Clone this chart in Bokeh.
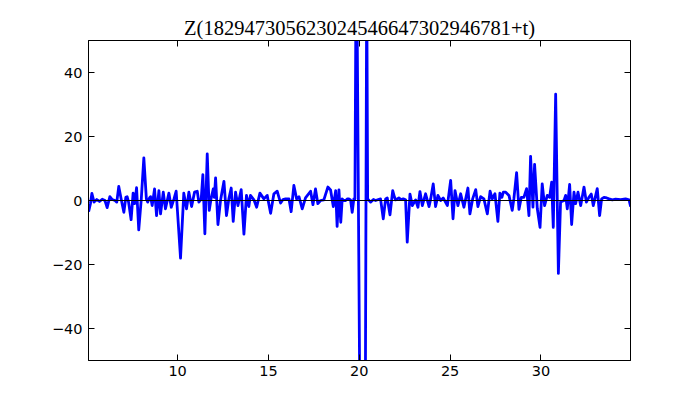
from bokeh.plotting import figure
from bokeh.models import Range1d, LinearAxis, FixedTicker, Span
from bokeh.embed import file_html
from bokeh.resources import INLINE

# ---- data ----
t_vals = [
    5.10, 5.20, 5.28, 5.40, 5.55, 5.70, 5.85, 6.00, 6.12, 6.27, 6.40, 6.55, 6.65, 6.76, 6.90,
    7.04, 7.15, 7.22, 7.30, 7.44, 7.55, 7.64, 7.74, 7.86, 8.00, 8.14, 8.28, 8.35, 8.45, 8.51,
    8.60, 8.73, 8.84, 8.97, 9.06, 9.21, 9.33, 9.52, 9.65, 9.80, 9.92, 10.16, 10.34, 10.49, 10.62,
    10.77, 10.93, 11.08, 11.17, 11.30, 11.39, 11.50, 11.63, 11.74, 11.84, 11.96, 12.02, 12.09, 12.22,
    12.36, 12.55, 12.69, 12.82, 12.95, 13.06, 13.19, 13.32, 13.50, 13.65, 13.79, 13.92, 14.01, 14.20,
    14.35, 14.53, 14.75, 14.93, 15.12, 15.30, 15.48, 15.67, 15.80, 15.94, 16.13, 16.25, 16.40, 16.55,
    16.68, 16.86, 17.04, 17.32, 17.45, 17.59, 17.72, 17.87, 18.05, 18.27, 18.42, 18.57, 18.70, 18.78,
    18.88, 18.98, 19.06, 19.15, 19.25, 19.35, 19.43, 19.52, 19.61, 19.70, 19.76, 19.84, 20.10, 20.22,
    20.41, 20.46, 20.62, 20.78, 20.90, 21.05, 21.17, 21.32, 21.45, 21.54, 21.69, 21.84, 21.94, 22.00,
    22.18, 22.30, 22.42, 22.55, 22.64, 22.79, 22.92, 23.10, 23.23, 23.34, 23.47, 23.65, 23.84, 23.93,
    24.07, 24.20, 24.33, 24.48, 24.62, 24.85, 25.03, 25.16, 25.27, 25.43, 25.58, 25.76, 25.98, 26.09,
    26.24, 26.41, 26.53, 26.68, 26.86, 27.05, 27.20, 27.32, 27.47, 27.63, 27.74, 27.85, 27.93, 28.06,
    28.24, 28.42, 28.51, 28.66, 28.79, 28.92, 29.06, 29.21, 29.34, 29.43, 29.56, 29.65, 29.80, 29.95,
    30.07, 30.20, 30.35, 30.48, 30.59, 30.68, 30.81, 30.96, 31.08, 31.27, 31.36, 31.45, 31.58, 31.69,
    31.82, 31.91, 32.04, 32.19, 32.37, 32.50, 32.64, 32.77, 32.88, 32.97, 33.10, 33.23, 33.34, 33.47,
    33.62, 33.75, 33.93, 34.11, 34.39, 34.66, 34.85, 34.94,
]
z_vals = [
    -3.5, -1.0, 2.2, -0.5, 0.3, -0.3, 0.4, 0.0, -2.2, 1.2, 0.3, 0.0, -0.5, 4.4, 0.2,
    -3.7, 1.0, 1.2, -0.5, -6.0, 2.3, -1.0, 4.0, -9.2, 0.5, 13.3, 0.5, -0.5, 0.8, 1.2,
    -1.6, 3.6, -4.7, 3.1, -4.2, 2.6, -2.6, 2.3, -2.1, 0.5, 2.9, -18.0, 2.3, -2.6, 2.6,
    -1.9, 2.6, 2.9, -0.5, 0.5, 8.1, -10.4, 14.6, -3.1, 0.5, 3.6, 1.0, 7.1, -7.5,
    0.0, 6.0, -4.7, 0.5, 3.9, -6.5, 2.6, -1.6, 3.4, -10.5, 1.6, -1.9, 1.6, 0.2,
    -2.1, 2.3, 0.5, 1.6, -4.0, 2.1, 2.9, -0.8, 0.3, 0.5, 0.5, -3.5, 4.7, 0.5,
    1.2, -2.6, 0.8, 2.9, -1.3, 3.6, -1.0, 0.0, 0.2, 4.2, 3.3, -1.9, 3.1, -8.1,
    3.3, -6.8, 0.5, 0.0, 0.0, 0.5, 0.5, 0.2, -3.7, 0.5, 0.5, 90.0, -120.0, -260.0,
    70.0, 0.5, -0.5, 0.3, 0.0, 0.3, 0.5, -5.7, 0.5, 0.8, -4.5, 3.1, 1.0, 0.2,
    0.8, 0.3, 0.5, 0.2, -13.0, 2.0, -1.6, 0.2, -2.1, 2.8, -1.6, 2.1, -1.9, 0.5,
    5.2, -1.9, 1.6, 0.0, 0.8, -1.6, 6.3, -5.7, 3.1, -1.6, 2.1, -2.1, 3.9, -4.2,
    0.5, 3.4, -1.9, 1.2, 0.5, -4.2, 2.9, 0.5, 2.1, -6.5, 2.3, 1.0, 2.6, 2.6,
    1.6, -3.1, 0.5, 8.7, -2.8, 1.0, 1.0, 3.7, -4.7, 13.8, -2.1, 11.3, -2.6, -8.4,
    5.2, -1.6, 1.6, 1.0, 5.7, -8.4, 33.2, -22.8, -0.5, 0.0, 1.6, -2.6, 5.0, -7.5,
    2.6, -1.0, 2.6, -1.6, 4.2, -0.5, 1.0, 2.0, -1.6, 0.5, 3.7, -4.7, 0.5, 1.0,
    0.8, 0.5, 0.2, 0.4, 0.3, 0.5, 0.2, -1.9,
]
x_ticks = [10, 15, 20, 25, 30]
y_ticks = [-40, -20, 0, 20, 40]
y_tick_labels = {-40: "\u221240", -20: "\u221220", 0: "0", 20: "20", 40: "40"}
title_text = "Z(182947305623024546647302946781+t)"

p = figure(width=692, height=392, output_backend="svg", toolbar_location=None,
           x_range=Range1d(5.094, 34.93), y_range=Range1d(-50, 50),
           x_axis_location=None, y_axis_location=None)
p.min_border_left = 88
p.min_border_right = 62
p.min_border_top = 40
p.min_border_bottom = 32
p.background_fill_color = "white"
p.border_fill_color = "white"
p.outline_line_color = "black"
p.outline_line_width = 1
p.xgrid.visible = False
p.ygrid.visible = False

def style_axis(ax, ticks, show_labels):
    ax.ticker = FixedTicker(ticks=ticks)
    ax.major_tick_in = 6
    ax.major_tick_out = 0
    ax.minor_tick_line_color = None
    ax.axis_line_color = "black"
    ax.major_tick_line_color = "black"
    ax.major_label_text_font = "DejaVu Sans"
    if show_labels:
        ax.major_label_text_font_size = "14.5px"
        ax.major_label_text_color = "black"
    else:
        ax.major_label_text_font_size = "0px"
        ax.major_label_text_color = None
        ax.major_label_standoff = 0

bottom = LinearAxis()
style_axis(bottom, x_ticks, True)
bottom.major_label_standoff = 5
p.add_layout(bottom, "below")

left = LinearAxis()
style_axis(left, y_ticks, True)
left.major_label_overrides = y_tick_labels
left.major_label_standoff = 6
p.add_layout(left, "left")

top = LinearAxis()
style_axis(top, x_ticks, False)
p.add_layout(top, "above")

right = LinearAxis()
style_axis(right, y_ticks, False)
p.add_layout(right, "right")

p.line(t_vals, z_vals, line_color="#0000ff", line_width=2.8, line_join="round")

p.add_layout(Span(location=0, dimension="width", line_color="black", line_width=1))

p.title.text = title_text
p.title.align = "center"
p.title.text_font = "Liberation Serif"
p.title.text_font_style = "normal"
p.title.text_font_size = "20.5px"
p.title.text_color = "black"
p.title.standoff = 4

open("out.html", "w").write(file_html(p, INLINE))
